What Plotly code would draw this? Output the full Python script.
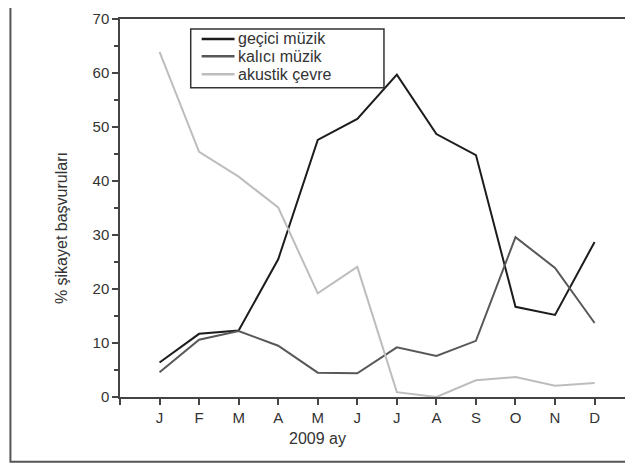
import plotly.graph_objects as go

months = ["J", "F", "M", "A", "M", "J", "J", "A", "S", "O", "N", "D"]
month_pos = list(range(1, 13))
gecici = [6.4, 11.7, 12.3, 25.5, 47.6, 51.5, 59.7, 48.7, 44.8, 16.7, 15.2, 28.7]
kalici = [4.6, 10.6, 12.2, 9.5, 4.5, 4.4, 9.2, 7.6, 10.4, 29.6, 23.9, 13.7]
akustik = [63.9, 45.4, 40.8, 35.1, 19.2, 24.1, 0.9, 0.0, 3.1, 3.7, 2.1, 2.6]
names = ["geçici müzik", "kalıcı müzik", "akustik çevre"]
colors = ["#1c1c1c", "#585858", "#bdbdbd"]

FONT = "Liberation Sans, Arial, sans-serif"

fig = go.Figure()
for name, vals, col in zip(names, [gecici, kalici, akustik], colors):
    fig.add_trace(go.Scatter(x=month_pos, y=vals, mode="lines", name=name,
                             line=dict(color=col, width=2), showlegend=False))

# the page body adds an 8px offset; lay the figure out in screen coords minus 8
OFF = 8
W, H = 633 - OFF, 466 - OFF
L, R, T, B = 120 - OFF, 2, 17 - OFF, 69
pw, ph = W - L - R, H - T - B

def px(x):
    return (x - OFF - L) / pw

def py(y):
    return (H - B - (y - OFF)) / ph

shapes = [
    # outer frame
    dict(type="rect", xref="paper", yref="paper",
         x0=px(10), x1=px(660), y0=py(462), y1=py(-20),
         line=dict(color="#555", width=2), layer="below"),
    # legend box
    dict(type="rect", xref="paper", yref="paper",
         x0=px(191), x1=px(385), y0=py(86), y1=py(27),
         line=dict(color="#333", width=1.5), fillcolor="white", layer="above"),
]
annotations = [
    dict(text="2009 ay", x=5, y=py(439), xref="x", yref="paper",
         showarrow=False, xanchor="center", yanchor="middle",
         font=dict(family=FONT, size=16, color="#333")),
    dict(text="% şikayet başvuruları", x=px(62), y=py(227), xref="paper", yref="paper",
         textangle=-90, showarrow=False, xanchor="center", yanchor="middle",
         font=dict(family=FONT, size=16, color="#333")),
]
row_y = [37, 54.5, 72.5]
for name, col, ry in zip(names, colors, row_y):
    shapes.append(dict(type="line", xref="paper", yref="paper",
                       x0=px(202), x1=px(235), y0=py(ry), y1=py(ry),
                       line=dict(color=col, width=2.5), layer="above"))
    annotations.append(dict(text=name, x=px(236), y=py(ry), xref="paper", yref="paper",
                            showarrow=False, xanchor="left", yanchor="middle",
                            font=dict(family=FONT, size=16, color="#333")))

fig.update_layout(
    width=W, height=H,
    margin=dict(l=L, r=R, t=T, b=B),
    paper_bgcolor="white", plot_bgcolor="white",
    font=dict(family=FONT, size=15, color="#333"),
    showlegend=False,
    xaxis=dict(range=[0, 12.87], tickvals=[0] + month_pos, ticktext=[""] + months,
               ticks="outside", ticklen=6, tickwidth=1.5, tickcolor="#444",
               showline=True, linecolor="#444", linewidth=1.5, mirror=True,
               showgrid=False, zeroline=False,
               tickfont=dict(family=FONT, size=15, color="#333")),
    yaxis=dict(range=[0, 70], tickvals=list(range(0, 71, 10)),
               ticks="outside", ticklen=6, tickwidth=1.5, tickcolor="#444",
               minor=dict(tickvals=list(range(5, 70, 10)), ticks="outside",
                          ticklen=4, tickwidth=1.5, tickcolor="#444"),
               showline=True, linecolor="#444", linewidth=1.5, mirror=True,
               showgrid=False, zeroline=False,
               tickfont=dict(family=FONT, size=15, color="#333")),
    annotations=annotations,
    shapes=shapes,
)

fig.write_html("out.html")
